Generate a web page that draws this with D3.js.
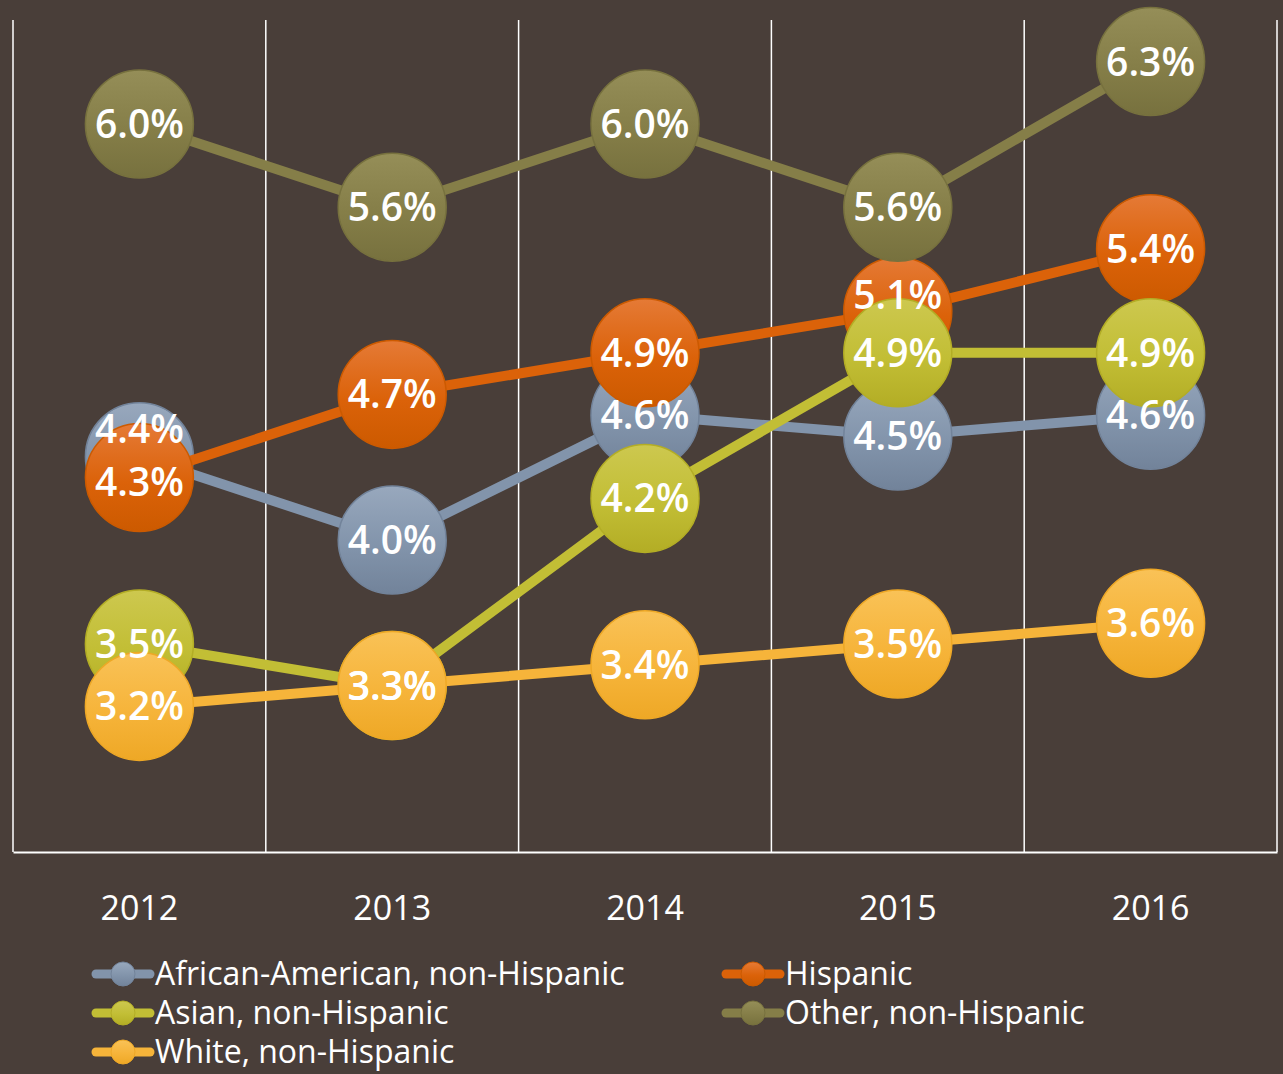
<!DOCTYPE html>
<html>
<head>
<meta charset="utf-8">
<script src="https://cdn.jsdelivr.net/npm/d3@7"></script>
<style>
  body { margin: 0; background: #493e39; }
  svg { display: block; }
</style>
</head>
<body>
<div id="chart"></div>
<script>
let years = ["2012", "2013", "2014", "2015", "2016"];

let seriesNames = [
    "African-American, non-Hispanic",
    "Hispanic",
    "Asian, non-Hispanic",
    "Other, non-Hispanic",
    "White, non-Hispanic"
];

let africanAmerican = [4.4, 4.0, 4.6, 4.5, 4.6];
let hispanic = [4.3, 4.7, 4.9, 5.1, 5.4];
let asian = [3.5, 3.3, 4.2, 4.9, 4.9];
let other = [6.0, 5.6, 6.0, 5.6, 6.3];
let white = [3.2, 3.3, 3.4, 3.5, 3.6];

let colors = ["#8294ab", "#db6209", "#c2be35", "#857e48", "#f6b43a"];
let lightColors = ["#98a8bd", "#e57a36", "#cdc84f", "#958e58", "#f9c257"];
let darkColors = ["#72839a", "#cc5a00", "#b3ad25", "#77713e", "#eea826"];

// labels that were dragged off their marker in the original (series index -> year -> dy)
let labelNudge = { 0: { "2012": -28 }, 1: { "2015": -16, "2012": 4 } };

let data = [africanAmerican, hispanic, asian, other, white].map(function (vals, i) {
    return {
        name: seriesNames[i],
        color: colors[i],
        values: vals.map(function (v, j) { return { year: years[j], value: v }; })
    };
});

let width = 1283;
let height = 1074;
let plotLeft = 13, plotRight = 1277, plotTop = 20, plotBottom = 852;
let font = '"Open Sans", sans-serif';

let svg = d3.select('#chart')
    .append('svg')
        .attr('width', width)
        .attr('height', height);

svg.append('rect')
    .attr('width', width)
    .attr('height', height)
    .attr('fill', '#493e39');

let defs = svg.append('defs');
data.forEach(function (s, i) {
    let grad = defs.append('linearGradient')
        .attr('id', 'grad' + i)
        .attr('x1', 0).attr('y1', 0).attr('x2', 0).attr('y2', 1);
    grad.append('stop').attr('offset', '0%').attr('stop-color', lightColors[i]);
    grad.append('stop').attr('offset', '55%').attr('stop-color', colors[i]);
    grad.append('stop').attr('offset', '100%').attr('stop-color', darkColors[i]);
});

let x = d3.scaleBand().domain(years).range([plotLeft, plotRight]);
let y = d3.scaleLinear().domain([2.5, 6.5]).range([plotBottom, plotTop]);

// gridlines between categories
let bounds = years.map(function (d) { return x(d); }).concat([plotRight]);
svg.append('g')
    .selectAll('line')
    .data(bounds)
    .enter()
    .append('line')
        .attr('x1', function (d) { return d; })
        .attr('x2', function (d) { return d; })
        .attr('y1', plotTop)
        .attr('y2', plotBottom)
        .attr('stroke', '#ffffff')
        .attr('stroke-width', 1.5);

// x axis
let xAxisGroup = svg.append('g').attr('transform', 'translate(0,' + plotBottom + ')');
xAxisGroup.call(d3.axisBottom(x).tickSize(0).tickPadding(44));
xAxisGroup.select('.domain').attr('stroke', '#ffffff').attr('stroke-width', 2);
xAxisGroup.selectAll('text')
    .attr('fill', '#ffffff')
    .attr('font-family', font)
    .attr('font-size', '34px');

let line = d3.line()
    .x(function (d) { return x(d.year) + x.bandwidth() / 2; })
    .y(function (d) { return y(d.value); });

let seriesGroups = svg.selectAll('.series')
    .data(data)
    .enter()
    .append('g')
        .attr('class', 'series');

seriesGroups.append('path')
    .attr('d', function (d) { return line(d.values); })
    .attr('fill', 'none')
    .attr('stroke', function (d) { return d.color; })
    .attr('stroke-width', 10);

seriesGroups.each(function (s, i) {
    d3.select(this).selectAll('circle')
        .data(s.values)
        .enter()
        .append('circle')
            .attr('cx', function (d) { return x(d.year) + x.bandwidth() / 2; })
            .attr('cy', function (d) { return y(d.value); })
            .attr('r', 54)
            .attr('fill', 'url(#grad' + i + ')')
            .attr('stroke', darkColors[i])
            .attr('stroke-width', 1.5);
});

// labels on top of everything
data.forEach(function (s, i) {
    svg.append('g')
        .selectAll('text')
        .data(s.values)
        .enter()
        .append('text')
            .attr('x', function (d) { return x(d.year) + x.bandwidth() / 2; })
            .attr('y', function (d) {
                let dy = (labelNudge[i] && labelNudge[i][d.year]) || 0;
                return y(d.value) + 14 + dy;
            })
            .attr('text-anchor', 'middle')
            .attr('fill', '#ffffff')
            .attr('font-family', font)
            .attr('font-weight', 600)
            .attr('font-size', '39px')
            .text(function (d) { return d.value.toFixed(1) + '%'; });
});

// legend
let legendPos = [[92, 974], [722, 974], [92, 1013], [722, 1013], [92, 1052]];
data.forEach(function (s, i) {
    let lg = svg.append('g')
        .attr('transform', 'translate(' + legendPos[i][0] + ',' + legendPos[i][1] + ')');
    lg.append('line')
        .attr('x1', 4).attr('x2', 58)
        .attr('y1', 0).attr('y2', 0)
        .attr('stroke', s.color)
        .attr('stroke-width', 9)
        .attr('stroke-linecap', 'round');
    lg.append('circle')
        .attr('cx', 31).attr('cy', 0).attr('r', 12)
        .attr('fill', 'url(#grad' + i + ')')
        .attr('stroke', darkColors[i]);
    lg.append('text')
        .attr('x', 63)
        .attr('y', 11)
        .attr('fill', '#ffffff')
        .attr('font-family', font)
        .attr('font-size', '32px')
        .text(s.name);
});
</script>
</body>
</html>
